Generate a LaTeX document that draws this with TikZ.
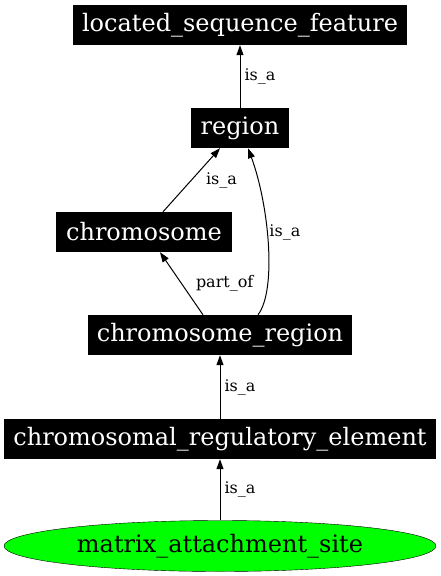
\documentclass[tikz,border=0pt]{standalone}
\usepackage{fontspec}
\setmainfont{DejaVu Serif}
\usetikzlibrary{arrows.meta,shapes.geometric}

\begin{document}
\begin{tikzpicture}[x=1pt,y=-1pt,
  term/.style={fill=black,text=white,inner sep=0pt,minimum height=40pt,font=\fontsize{24}{28}\selectfont},
  rel/.style={-{Triangle[length=10pt,width=7pt]},line width=1pt},
  lab/.style={font=\fontsize{16}{19}\selectfont,anchor=west,inner sep=4pt}]
\useasboundingbox (0,0) rectangle (440,576);
\node[term,minimum width=334pt] (lsf) at (240,25) {located\_sequence\_feature};
\node[term,minimum width=98pt] (reg) at (240,128) {region};
\node[term,minimum width=176pt] (chr) at (144,232) {chromosome};
\node[term,minimum width=264pt] (cr) at (220,335) {chromosome\_region};
\node[term,minimum width=432pt] (cre) at (220,439) {chromosomal\_regulatory\_element};
\node[ellipse,draw,fill=green,inner sep=0pt,minimum width=432pt,minimum height=51pt,
  font=\fontsize{24}{28}\selectfont] (mas) at (220,546) {matrix\_attachment\_site};
\draw[rel] (reg) -- node[lab] {is\_a} (lsf);
\draw[rel] ([xshift=19pt]chr.north) -- node[lab,pos=0.5,xshift=10pt] {is\_a} ([xshift=-20pt]reg.south);
\draw[rel] ([xshift=38pt]cr.north) .. controls (277,290) and (269,205) .. node[lab,pos=0.56,xshift=-2pt] {is\_a} ([xshift=8pt]reg.south);
\draw[rel] ([xshift=-17pt]cr.north) -- node[lab,pos=0.5,xshift=10pt] {part\_of} ([xshift=16pt]chr.south);
\draw[rel] (cre) -- node[lab] {is\_a} (cr);
\draw[rel] (mas) -- node[lab] {is\_a} (cre);
\end{tikzpicture}
\end{document}
